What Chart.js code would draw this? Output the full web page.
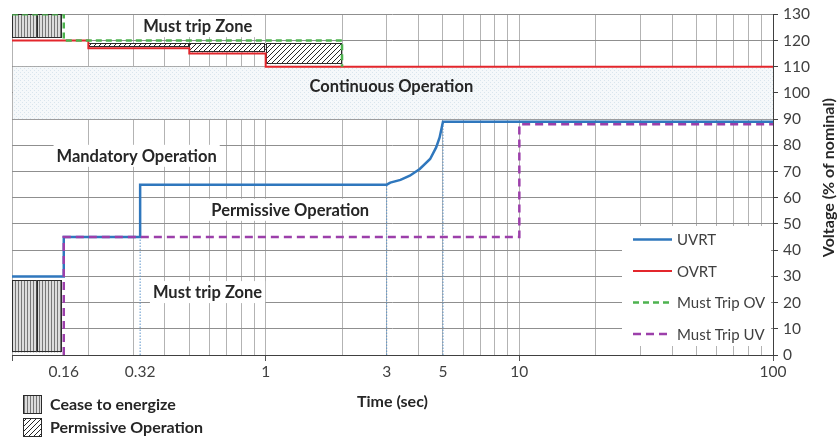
<!DOCTYPE html>
<html>
<head>
<meta charset="utf-8">
<script src="https://cdn.jsdelivr.net/npm/chart.js@4/dist/chart.umd.min.js"></script>
<style>
  html, body { margin: 0; padding: 0; background: #ffffff; }
  #wrap { width: 839px; height: 441px; position: relative; }
</style>
</head>
<body>
<div id="wrap"><canvas id="vrt" width="839" height="441"></canvas></div>
<script>
// ---- Ride-through curves (time in s, voltage in % of nominal) ----
const uvrtTime = [0.1, 0.16, 0.16, 0.32, 0.32, 3, 3.1, 3.4, 3.7, 4.05, 4.45, 4.7, 4.85, 5, 100];
const uvrtVolt = [30, 30, 45, 45, 65, 65, 65.8, 66.8, 68.4, 71, 74.8, 79.2, 83, 89, 89];

const ovrtTime = [0.1, 0.2, 0.2, 0.5, 0.5, 1, 1, 100];
const ovrtVolt = [120, 120, 117, 117, 115, 115, 110, 110];

const tripOvTime = [0.1, 0.16, 0.16, 2, 2];
const tripOvVolt = [130, 130, 120, 120, 110];

const tripUvTime = [0.16, 0.16, 10, 10, 100];
const tripUvVolt = [0, 45, 45, 88, 88];

// dotted drop lines from the UVRT corners down to the time axis
const dropTime = [0.32, 3, 5];
const dropVolt = [45, 65, 89];

// ---- Operating regions ----
const continuousLow = 90;
const continuousHigh = 110;

const permissiveFrom = [0.2, 0.5, 1];
const permissiveTo   = [0.5, 1, 2];
const permissiveLow  = [117.5, 115.5, 111];
const permissiveHigh = [119, 119, 119];

const ceaseFrom = [0.1, 0.125, 0.1, 0.125];
const ceaseTo   = [0.125, 0.157, 0.125, 0.157];
const ceaseLow  = [121, 121, 1, 1];
const ceaseHigh = [130, 130, 28.5, 28.5];

// ---- Axis ticks ----
const timeLabels = [0.16, 0.32, 1, 3, 5, 10, 100];
const timeGrid = [0.1, 0.2, 0.3, 0.4, 0.5, 0.6, 0.7, 0.8, 0.9,
                  1, 2, 3, 4, 5, 6, 7, 8, 9,
                  10, 20, 30, 40, 50, 60, 70, 80, 90, 100];
const timeMajor = [0.1, 1, 10, 100];

// ---- Text ----
const seriesNames = ['UVRT', 'OVRT', 'Must Trip OV', 'Must Trip UV'];
const zoneNames = ['Must trip Zone', 'Continuous Operation', 'Mandatory Operation',
                   'Permissive Operation', 'Must trip Zone'];
const zoneTime = [0.54, 3.13, 0.31, 1.25, 0.59];
const zoneVolt = [125.5, 102.7, 76, 55.4, 24];
const zoneBoxed = [true, false, true, true, true];
const patternNames = ['Cease to energize', 'Permissive Operation'];

// ---- Styles ----
const FONT = "Lato, 'Open Sans', sans-serif";
const COLORS = {
  uvrt: '#2F77BD',
  ovrt: '#E3262C',
  tripOv: '#4DB34F',
  tripUv: '#9C3FAA',
  drop: '#5B93C9',
  text: '#262626',
  tick: '#404040'
};

const toPts = (xs, ys) => xs.map((x, i) => ({ x: x, y: ys[i] }));

function makePattern(kind) {
  const c = document.createElement('canvas');
  const g = c.getContext('2d');
  if (kind === 'dots') {
    c.width = 4; c.height = 4;
    g.fillStyle = '#F5F8FA'; g.fillRect(0, 0, 4, 4);
    g.fillStyle = '#D9E5ED';
    g.fillRect(0, 0, 1, 1); g.fillRect(2, 2, 1, 1);
  } else if (kind === 'vstripe') {
    c.width = 3; c.height = 3;
    g.fillStyle = '#DCDCDC'; g.fillRect(0, 0, 3, 3);
    g.fillStyle = '#777777'; g.fillRect(0, 0, 1, 3);
  } else {
    c.width = 5; c.height = 5;
    g.fillStyle = '#FFFFFF'; g.fillRect(0, 0, 5, 5);
    g.strokeStyle = '#262626'; g.lineWidth = 1;
    g.beginPath();
    g.moveTo(0, 5); g.lineTo(5, 0);
    g.moveTo(-1, 1); g.lineTo(1, -1);
    g.moveTo(4, 6); g.lineTo(6, 4);
    g.stroke();
  }
  return document.createElement('canvas').getContext('2d').createPattern(c, 'repeat');
}

const dotFill = makePattern('dots');
const stripeFill = makePattern('vstripe');
const hatchFill = makePattern('hatch');

function patternBox(ctx, x0, y0, x1, y1, fill) {
  ctx.fillStyle = fill;
  ctx.fillRect(x0, y0, x1 - x0, y1 - y0);
  ctx.strokeStyle = '#2B2B2B';
  ctx.lineWidth = 1;
  ctx.strokeRect(Math.round(x0) + 0.5, Math.round(y0) + 0.5,
                 Math.round(x1 - x0) - 1, Math.round(y1 - y0) - 1);
}

const regionsPlugin = {
  id: 'regions',
  beforeDatasetsDraw(chart) {
    const { ctx, chartArea: a, scales: { x, y } } = chart;
    ctx.save();

    // continuous operation band
    const bt = y.getPixelForValue(continuousHigh);
    const bb = y.getPixelForValue(continuousLow);
    ctx.fillStyle = dotFill;
    ctx.fillRect(a.left + 1, bt, a.right - a.left - 1, bb - bt);

    // permissive (hatched) boxes
    permissiveFrom.forEach((t0, i) => {
      patternBox(ctx, x.getPixelForValue(t0), y.getPixelForValue(permissiveHigh[i]),
                 x.getPixelForValue(permissiveTo[i]), y.getPixelForValue(permissiveLow[i]), hatchFill);
    });

    // cease to energize boxes
    ceaseFrom.forEach((t0, i) => {
      patternBox(ctx, x.getPixelForValue(t0), y.getPixelForValue(ceaseHigh[i]),
                 x.getPixelForValue(ceaseTo[i]), y.getPixelForValue(ceaseLow[i]), stripeFill);
    });

    // zone names
    ctx.font = 'bold 16.5px ' + FONT;
    ctx.textAlign = 'center';
    ctx.textBaseline = 'middle';
    zoneNames.forEach((name, i) => {
      const px = x.getPixelForValue(zoneTime[i]);
      const py = y.getPixelForValue(zoneVolt[i]);
      if (zoneBoxed[i]) {
        const w = ctx.measureText(name).width + 6;
        ctx.fillStyle = '#FFFFFF';
        ctx.fillRect(px - w / 2, py - 11, w, 22);
      }
      ctx.fillStyle = COLORS.text;
      ctx.fillText(name, px, py + 1);
    });
    ctx.restore();
  },
  afterDatasetsDraw(chart) {
    const { ctx, chartArea: a } = chart;
    ctx.save();
    // series legend in the lower right of the plot
    const lx = a.right - 151, ly = 226, lw = 149, lh = 120;
    ctx.fillStyle = '#FFFFFF';
    ctx.fillRect(lx, ly, lw, lh);
    const styles = [
      { c: COLORS.uvrt, w: 2.5, d: [] },
      { c: COLORS.ovrt, w: 2, d: [] },
      { c: COLORS.tripOv, w: 2.5, d: [6, 4] },
      { c: COLORS.tripUv, w: 2.5, d: [8, 5] }
    ];
    ctx.font = '15px ' + FONT;
    ctx.textAlign = 'left';
    ctx.textBaseline = 'middle';
    seriesNames.forEach((name, i) => {
      const yy = ly + 13.5 + i * 31.5;
      ctx.strokeStyle = styles[i].c;
      ctx.lineWidth = styles[i].w;
      ctx.setLineDash(styles[i].d);
      ctx.beginPath();
      ctx.moveTo(lx + 11, yy);
      ctx.lineTo(lx + 50, yy);
      ctx.stroke();
      ctx.setLineDash([]);
      ctx.fillStyle = COLORS.tick;
      ctx.fillText(name, lx + 55, yy + 1);
    });
    ctx.restore();
  },
  afterDraw(chart) {
    const { ctx, chartArea: a } = chart;
    ctx.save();
    // vertical axis title (reads bottom to top)
    ctx.font = 'bold 16px ' + FONT;
    ctx.fillStyle = COLORS.text;
    ctx.textAlign = 'center';
    ctx.textBaseline = 'middle';
    ctx.translate(829, (a.top + a.bottom) / 2 - 7);
    ctx.rotate(-Math.PI / 2);
    ctx.fillText('Voltage (% of nominal)', 0, 0);
    ctx.restore();

    // pattern key under the plot
    ctx.save();
    const fills = [stripeFill, hatchFill];
    ctx.font = 'bold 16px ' + FONT;
    ctx.textAlign = 'left';
    ctx.textBaseline = 'middle';
    patternNames.forEach((name, i) => {
      const top = 395 + i * 23;
      patternBox(ctx, 23, top, 42, top + 19, fills[i]);
      ctx.fillStyle = COLORS.text;
      ctx.fillText(name, 50, top + 10);
    });
    ctx.restore();
  }
};

const lineDs = (label, xs, ys, color, width, dash, order) => ({
  label: label,
  data: toPts(xs, ys),
  showLine: true,
  borderColor: color,
  backgroundColor: color,
  borderWidth: width,
  borderDash: dash,
  pointRadius: 0,
  fill: false,
  tension: 0,
  order: order
});

const datasets = [
  lineDs(seriesNames[3], tripUvTime, tripUvVolt, COLORS.tripUv, 2.5, [8, 5], 1),
  lineDs(seriesNames[2], tripOvTime, tripOvVolt, COLORS.tripOv, 2.5, [6, 4], 2),
  lineDs(seriesNames[0], uvrtTime, uvrtVolt, COLORS.uvrt, 2.5, [], 4),
  lineDs(seriesNames[1], ovrtTime, ovrtVolt, COLORS.ovrt, 2, [], 5)
];
dropTime.forEach((t, i) => {
  datasets.push(lineDs('', [t, t], [0, dropVolt[i]], COLORS.drop, 1, [1.5, 1.5], 6));
});

new Chart(document.getElementById('vrt'), {
  type: 'scatter',
  data: { datasets: datasets },
  plugins: [regionsPlugin],
  options: {
    responsive: false,
    animation: false,
    events: [],
    layout: { padding: { left: 12, top: 13, right: 0, bottom: 0 } },
    plugins: { legend: { display: false }, tooltip: { enabled: false } },
    scales: {
      x: {
        type: 'logarithmic',
        min: 0.1,
        max: 100,
        afterBuildTicks(scale) {
          const vals = Array.from(new Set(timeGrid.concat(timeLabels))).sort((p, q) => p - q);
          scale.ticks = vals.map(v => ({ value: v }));
        },
        afterFit(scale) { scale.height = 86; },
        grid: {
          color: ctx => (ctx.tick && timeGrid.includes(ctx.tick.value)) ? '#B3B3B3' : 'rgba(0,0,0,0)',
          tickColor: ctx => (ctx.tick && timeMajor.includes(ctx.tick.value)) ? '#555555' : 'rgba(0,0,0,0)',
          tickLength: 6,
          lineWidth: 1
        },
        border: { color: '#404040', width: 1 },
        ticks: {
          autoSkip: false,
          maxRotation: 0,
          padding: 2,
          color: COLORS.tick,
          font: { family: FONT, size: 15.5 },
          callback: v => timeLabels.includes(v) ? String(v) : ''
        },
        title: {
          display: true,
          text: 'Time (sec)',
          color: COLORS.text,
          font: { family: FONT, size: 16, weight: 'bold' },
          padding: { top: 0, bottom: 30 }
        }
      },
      y: {
        type: 'linear',
        position: 'right',
        min: 0,
        max: 130,
        afterFit(scale) { scale.width = 66; },
        grid: { color: '#8F8F8F', tickColor: '#404040', tickLength: 5, lineWidth: 1 },
        border: { color: '#404040', width: 1 },
        ticks: {
          stepSize: 10,
          padding: 5,
          color: COLORS.tick,
          font: { family: FONT, size: 15.5 }
        }
      }
    }
  }
});
</script>
</body>
</html>
